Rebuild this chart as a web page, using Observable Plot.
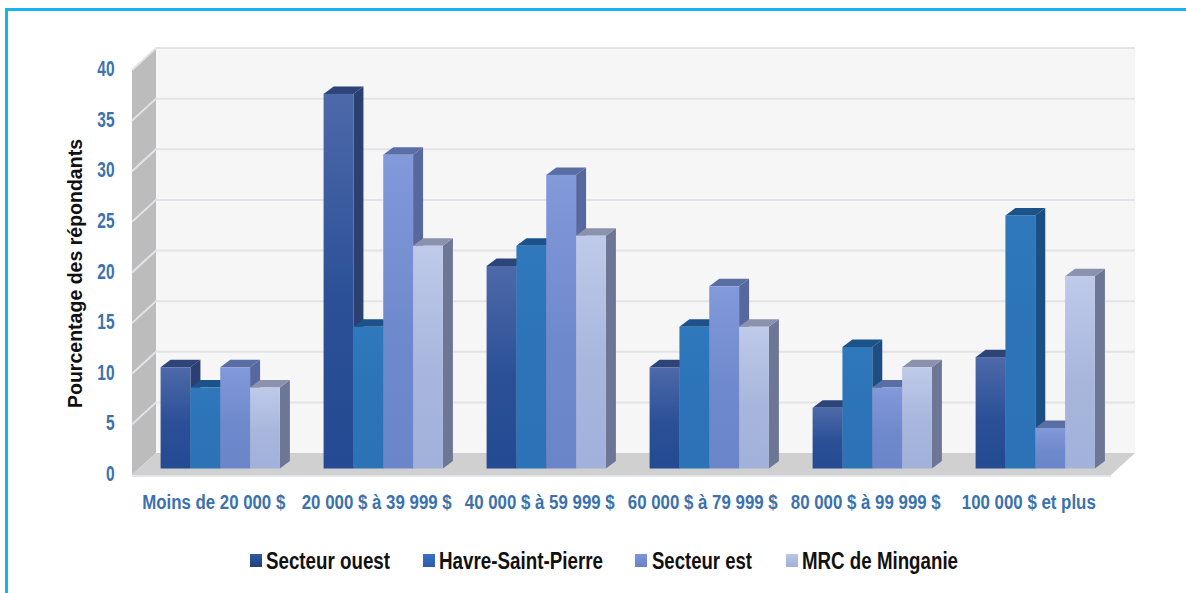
<!DOCTYPE html>
<html lang="fr">
<head>
<meta charset="utf-8">
<script src="https://cdn.jsdelivr.net/npm/d3@7"></script>
<script src="https://cdn.jsdelivr.net/npm/@observablehq/plot@0.6"></script>
<style>
html,body{margin:0;padding:0;background:#fff;overflow:hidden;width:1186px;height:593px}
#frame{position:absolute;left:5px;top:8px;width:1195px;height:625px;border:3px solid #14b5ec;box-sizing:border-box;pointer-events:none}
#chart{position:absolute;left:0;top:0}
#legend{position:absolute;left:0;top:535px;width:1186px;height:58px;font:bold 23px "Liberation Sans",sans-serif;color:#111;white-space:nowrap}
#legend .sw{position:absolute;top:19px;width:12px;height:13px}
#legend .tx{position:absolute;top:13px;line-height:26px;transform-origin:0 50%}
</style>
</head>
<body>
<div id="chart"></div>
<div id="legend"></div>
<div id="frame"></div>
<script>
const categories = ["Moins de 20 000 $","20 000 $ à 39 999 $","40 000 $ à 59 999 $","60 000 $ à 79 999 $","80 000 $ à 99 999 $","100 000 $ et plus"];
const seriesNames = ["Secteur ouest","Havre-Saint-Pierre","Secteur est","MRC de Minganie"];
const secteurOuest = [10,37,20,10,6,11];
const havre = [8,14,22,14,12,25];
const secteurEst = [10,31,29,18,8,4];
const mrc = [8,22,23,14,10,19];
const seriesValues = [secteurOuest,havre,secteurEst,mrc];
const yTicks = [0,5,10,15,20,25,30,35,40];
const frontTop = ["#4d69a9","#2e78bb","#8299da","#bfcaea"];
const frontBottom = ["#234a92","#2c72b6","#6a86c8","#a2b1da"];
const sideColors = ["#2b3f70","#1b4e82","#57689f","#6e7695"];
const topColors = ["#2d4479","#1b5289","#5a6ea6","#8a92ae"];
const legendTop = ["#2f5aa0","#3a6fc2","#7f95da","#b9c6e8"];
const legendBottom = ["#233f7c","#2d5dab","#6a82c6","#a0b0da"];
const labelWidths = [143,150,150,150,150,134];
const legendSwatchX = [250,423,635,786];
const legendTextX = [266,439,652,802];
const legendWidths = [124,164,100,156];

const W = 1186, H = 535;
const barDepth = [10, 7.5], wallBack = 24, wallUp = 15.5, wallDown = 6.5;
const blue = "#3b72ad", sans = '"Liberation Sans",sans-serif';

function walls(index, {y}, values, {width, height, marginLeft, marginRight}) {
  const L = marginLeft, R = width - marginRight;
  const g = d3.create("svg:g");
  const defs = g.append("defs");
  frontTop.forEach((c,i)=>{
    const lg = defs.append("linearGradient").attr("id","g"+i).attr("x1",0).attr("x2",0).attr("y1",0).attr("y2",1);
    lg.append("stop").attr("offset","0").attr("stop-color",c);
    lg.append("stop").attr("offset","0.55").attr("stop-color",d3.interpolateRgb(c,frontBottom[i])(0.8));
    lg.append("stop").attr("offset","1").attr("stop-color",frontBottom[i]);
  });
  const y0 = y(0), yT = y(40);
  g.append("rect").attr("x",L+wallBack).attr("y",yT-wallUp).attr("width",R-L).attr("height",y0-yT).attr("fill","#f6f6f7");
  g.append("path").attr("d",`M${L},${yT+wallDown}L${L+wallBack},${yT-wallUp}L${L+wallBack},${y0-wallUp}L${L},${y0+wallDown}Z`).attr("fill","#bcbcbc");
  g.append("path").attr("d",`M${L},${y0+wallDown}L${L+wallBack},${y0-wallUp}L${R+wallBack},${y0-wallUp}L${R},${y0+wallDown}Z`).attr("fill","#d0d0d0");
  g.append("rect").attr("x",L).attr("y",y0+wallDown).attr("width",R-L).attr("height",2).attr("fill","#e2e5ee");
  yTicks.filter(t=>t>0).forEach(t=>{
    const yy = y(t);
    g.append("path").attr("d",`M${L},${yy+wallDown}L${L+wallBack},${yy-wallUp}L${R+wallBack},${yy-wallUp}`)
      .attr("fill","none").attr("stroke","#e4e4e8").attr("stroke-width",2);
  });
  return g.node();
}

function extrude(i) {
  return function(index, scales, values, dims, ctx, next) {
    const g = next(index, scales, values, dims, ctx);
    const [dx, dy] = barDepth;
    g.querySelectorAll("rect").forEach(r => {
      const x = +r.getAttribute("x"), y = +r.getAttribute("y"), w = +r.getAttribute("width"), h = +r.getAttribute("height");
      const add = (d, fill) => {
        const p = document.createElementNS("http://www.w3.org/2000/svg","path");
        p.setAttribute("d", d); p.setAttribute("fill", fill);
        r.parentNode.insertBefore(p, r);
      };
      add(`M${x+w},${y}L${x+w+dx},${y-dy}L${x+w+dx},${y+h-dy}L${x+w},${y+h}Z`, sideColors[i]);
      add(`M${x},${y}L${x+dx},${y-dy}L${x+w+dx},${y-dy}L${x+w},${y}Z`, topColors[i]);
    });
    return g;
  };
}

const bw = 119.3;
const chart = Plot.plot({
  width: W, height: H,
  marginLeft: 132, marginRight: 75, marginTop: 63.5, marginBottom: 66.5,
  style: {background: "transparent", fontFamily: sans},
  x: {type: "band", domain: categories, paddingInner: 0.268, paddingOuter: 0.137, align: 0.64, round: false, label: null},
  y: {domain: [0,40], label: null},
  marks: [
    walls,
    ...seriesNames.map((s,i) => Plot.barY(
      categories.map((c,j)=>({category:c, value:seriesValues[i][j]})),
      {x:"category", y:"value", fill:`url(#g${i})`,
       insetLeft:i*bw/4, insetRight:(3-i)*bw/4,
       title:d=>`${s} — ${d.category} : ${d.value} %`,
       render: extrude(i)}
    )),
    Plot.axisY(yTicks, {anchor:"left", tickSize:0, tickPadding:18, dy:5, label:null, fill:blue, fontSize:22, fontWeight:"bold", fontFamily:sans}),
    Plot.axisX({anchor:"bottom", tickSize:0, tickPadding:26, dx:-7, label:null, fill:blue, fontSize:20, fontWeight:"bold", fontFamily:sans}),
    Plot.text(["Pourcentage des répondants"], {text:d=>d, frameAnchor:"left", dx:-56.5, dy:7, rotate:-90, textAnchor:"middle", fontSize:20, fontWeight:"bold", fontFamily:sans, fill:"#111"})
  ]
});
document.getElementById("chart").append(chart);

// The reference font is a condensed face: squeeze the real text to its measured widths.
const squeeze = (el, w) => { el.setAttribute("textLength", w); el.setAttribute("lengthAdjust", "spacingAndGlyphs"); };
chart.querySelectorAll("text").forEach(t => {
  const s = t.textContent;
  const k = categories.indexOf(s);
  if (k >= 0) squeeze(t, labelWidths[k]);
  else if (yTicks.includes(+s) && s.trim() !== "") squeeze(t, s.length * 8.6);
  else if (s === "Pourcentage des répondants") squeeze(t, 269);
});

const legend = d3.select("#legend");
seriesNames.forEach((s,i)=>{
  legend.append("span").attr("class","sw").style("left",legendSwatchX[i]+"px").style("background",`linear-gradient(${legendTop[i]},${legendBottom[i]})`);
  const t = legend.append("span").attr("class","tx").style("left",legendTextX[i]+"px").text(s);
  t.style("transform",`scaleX(${legendWidths[i]/t.node().getBoundingClientRect().width})`);
});
</script>
</body>
</html>
